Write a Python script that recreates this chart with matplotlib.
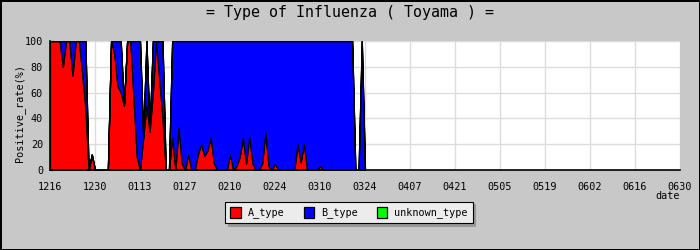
import numpy as np
import matplotlib
matplotlib.use('Agg')
import matplotlib.pyplot as plt

# daily positive rate (%) from 12/16, one value per day
a_type = [100, 100, 100, 100, 80, 100, 100, 73, 100, 100,
          75, 48, 0, 12, 0, 0, 0, 0, 0, 100,
          90, 65, 60, 50, 100, 100, 55, 10, 0, 25,
          50, 30, 60, 100, 70, 40, 0, 0, 25, 0,
          33, 5, 0, 12, 0, 0, 12, 20, 11, 15,
          25, 5, 0, 0, 0, 0, 12, 0, 3, 10,
          25, 5, 26, 5, 0, 0, 5, 29, 3, 0,
          5, 0, 0, 0, 0, 0, 0, 20, 6, 20,
          0, 0, 0, 0, 3, 0, 0, 0, 0, 0,
          0, 0, 0, 0, 0, 0, 0, 0, 0]
b_type = [0, 0, 0, 0, 20, 0, 0, 27, 0, 0,
          25, 52, 0, 0, 0, 0, 0, 0, 0, 0,
          10, 35, 40, 0, 0, 0, 45, 90, 100, 0,
          50, 0, 40, 0, 30, 60, 0, 0, 75, 100,
          67, 95, 100, 88, 100, 100, 88, 80, 89, 85,
          75, 95, 100, 100, 100, 100, 88, 100, 97, 90,
          75, 95, 74, 95, 100, 100, 95, 71, 97, 100,
          95, 100, 100, 100, 100, 100, 100, 80, 94, 80,
          100, 100, 100, 100, 97, 100, 100, 100, 100, 100,
          100, 100, 100, 100, 100, 0, 0, 100, 0]
unknown_type = [0] * len(a_type)

tick_labels = ['1216', '1230', '0113', '0127', '0210', '0224', '0310', '0324',
               '0407', '0421', '0505', '0519', '0602', '0616', '0630']

mono = 'DejaVu Sans Mono'
plt.rcParams['font.family'] = mono

fig = plt.figure(figsize=(7, 2.5), dpi=100)
fig.patch.set_facecolor('#c8c8c8')
fig.patch.set_edgecolor('black')
fig.patch.set_linewidth(2)

ax = fig.add_axes([50 / 700, 80 / 250, 630 / 700, 129 / 250])
ax.set_facecolor('white')

x = np.arange(len(a_type))
polys = ax.stackplot(x, a_type, b_type, unknown_type,
                     colors=['#ff0000', '#0000ff', '#00ff00'],
                     edgecolor='black', linewidth=0.9,
                     labels=['A_type', 'B_type', 'unknown_type'], zorder=3)

ax.set_xlim(0, 196)
ax.set_ylim(0, 100)
ax.set_xticks(np.arange(0, 197, 14))
ax.set_xticklabels(tick_labels)
ax.set_yticks(np.arange(0, 101, 20))
ax.set_yticks(np.arange(0, 101, 10), minor=True)

ax.grid(True, which='major', color='#dcdcdc', linewidth=1, zorder=0)
ax.set_axisbelow(True)

for s in ['top', 'right']:
    ax.spines[s].set_visible(False)
for s in ['left', 'bottom']:
    ax.spines[s].set_linewidth(1.2)
    ax.spines[s].set_zorder(5)

ax.tick_params(axis='x', length=0, pad=9, labelsize=7.3)
ax.tick_params(axis='y', which='both', direction='in', length=3, pad=5, labelsize=7.3)

fig.text(0.5, 1 - 13 / 250, '= Type of Influenza ( Toyama ) =',
         ha='center', va='center', fontsize=10.8)
fig.text(19.5 / 700, 1 - 113 / 250, 'Positive_rate(%)', rotation=90,
         ha='center', va='center', fontsize=7.3)
fig.text(679.5 / 700, 1 - 196 / 250, 'date', ha='right', va='center', fontsize=7.3)

leg = fig.legend(loc='center', bbox_to_anchor=(349 / 700, 1 - 212.5 / 250), ncol=3,
                 fontsize=7.3, frameon=True, fancybox=False,
                 facecolor='#ececec', edgecolor='black', framealpha=1,
                 shadow={'color': '#999999', 'alpha': 1},
                 handlelength=1.0, handleheight=1.3, handletextpad=0.7,
                 columnspacing=1.9, borderpad=0.5)
leg.get_frame().set_linewidth(0.8)

fig.savefig('out.png', dpi=100, facecolor=fig.get_facecolor(), edgecolor=fig.get_edgecolor())
